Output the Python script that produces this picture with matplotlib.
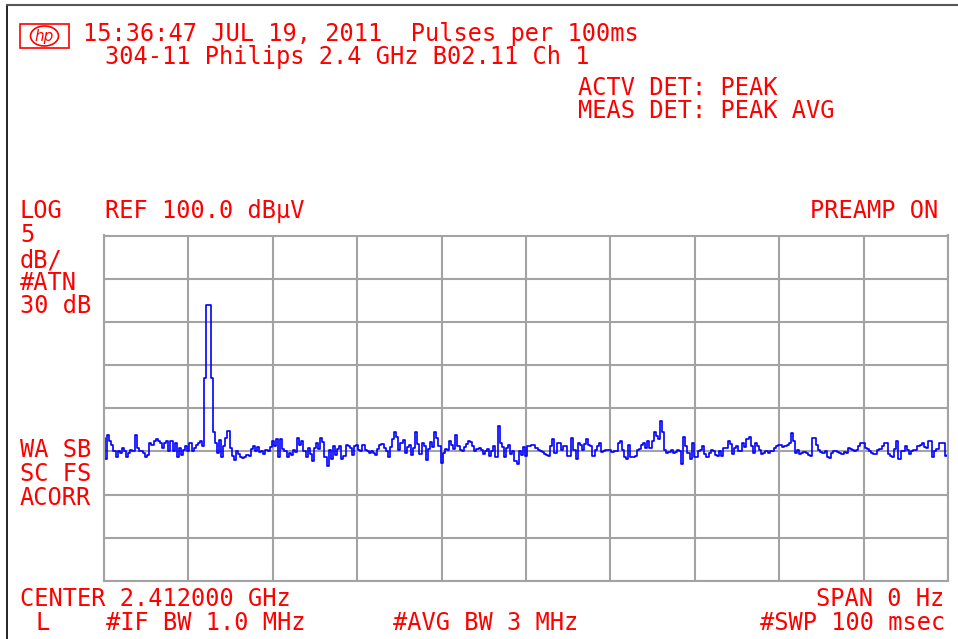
import numpy as np
import matplotlib
matplotlib.use('Agg')
import matplotlib.pyplot as plt
from matplotlib.lines import Line2D
from matplotlib.patches import Rectangle, Ellipse

# zero-span sweep, 401 trace points, values in dBuV
sweep_ms = 100.0
ref_level = 100.0
db_per_div = 5
n_div_y = 8

trace_dbuv = [
    76.6, 74.1, 76.9, 76.2, 75.8, 75.0, 74.4, 75.0, 74.8, 75.4,
    75.0, 74.4, 74.8, 75.2, 75.0, 76.9, 75.4, 75.0, 75.0, 74.8,
    74.4, 74.6, 76.0, 75.8, 76.2, 76.4, 76.2, 76.0, 75.4, 76.0,
    76.2, 75.0, 76.2, 75.0, 76.0, 74.4, 75.4, 74.6, 75.2, 75.6,
    75.0, 76.0, 75.0, 75.4, 75.8, 76.0, 76.2, 75.6, 83.5, 91.9,
    91.9, 83.5, 77.3, 76.0, 74.8, 76.3, 74.4, 75.6, 76.6, 77.4,
    75.4, 74.5, 74.0, 75.0, 74.7, 74.4, 74.2, 74.3, 74.6, 74.5,
    75.3, 75.6, 75.1, 75.5, 74.9, 75.0, 74.7, 75.2, 75.1, 75.5,
    76.2, 75.6, 76.4, 74.3, 76.4, 75.3, 75.0, 74.3, 74.8, 74.6,
    75.2, 74.9, 76.6, 75.7, 76.2, 75.0, 74.4, 75.4, 74.7, 73.9,
    75.4, 76.0, 75.3, 76.6, 76.1, 74.3, 73.3, 75.2, 74.1, 75.6,
    74.6, 75.3, 75.6, 74.1, 74.5, 75.8, 75.6, 75.4, 74.6, 75.6,
    75.7, 75.2, 75.0, 75.8, 75.2, 75.1, 74.8, 75.1, 74.8, 74.6,
    75.3, 75.8, 75.9, 75.4, 75.1, 74.3, 75.5, 76.4, 77.3, 76.7,
    75.2, 76.0, 76.3, 74.8, 75.5, 75.7, 74.6, 75.4, 77.2, 75.9,
    74.7, 76.0, 75.6, 74.0, 75.3, 76.1, 75.5, 77.2, 76.5, 75.6,
    73.7, 74.8, 75.3, 75.2, 76.2, 75.8, 75.3, 76.9, 75.6, 75.2,
    75.0, 75.5, 75.9, 76.2, 76.1, 75.6, 75.1, 75.3, 75.4, 75.2,
    74.7, 75.1, 75.3, 74.5, 75.0, 75.6, 74.4, 77.9, 76.0, 75.5,
    74.4, 75.4, 75.7, 74.7, 75.1, 73.9, 73.5, 75.0, 74.6, 75.5,
    74.5, 75.6, 75.6, 75.8, 75.7, 75.4, 75.2, 75.1, 74.9, 74.7,
    74.6, 74.5, 75.6, 76.4, 74.8, 76.0, 76.0, 75.2, 75.6, 75.6,
    74.5, 74.5, 76.6, 75.2, 74.1, 76.0, 75.8, 75.2, 75.9, 76.4,
    75.8, 75.6, 74.5, 75.2, 75.6, 76.0, 74.9, 75.1, 75.2, 75.2,
    75.2, 74.9, 75.0, 75.0, 76.0, 76.2, 75.2, 74.4, 74.1, 75.8,
    74.3, 74.4, 74.5, 75.2, 75.3, 75.8, 76.0, 75.4, 76.2, 75.4,
    76.2, 77.3, 76.8, 76.4, 78.5, 77.2, 75.2, 74.8, 74.9, 75.2,
    74.8, 74.9, 75.2, 75.1, 73.5, 76.7, 75.6, 74.8, 74.1, 76.0,
    74.3, 74.3, 75.0, 75.2, 75.6, 74.7, 74.3, 74.8, 75.2, 75.1,
    74.6, 74.5, 75.0, 74.5, 75.4, 75.4, 76.2, 75.9, 74.7, 75.4,
    75.6, 75.0, 75.0, 76.0, 75.5, 76.4, 76.7, 75.6, 74.8, 76.0,
    75.6, 75.2, 74.7, 74.8, 75.0, 74.8, 75.0, 75.0, 75.4, 75.6,
    75.8, 75.8, 75.5, 75.6, 75.7, 76.0, 77.1, 76.2, 74.8, 75.2,
    74.7, 74.8, 74.9, 74.8, 74.6, 74.5, 76.5, 76.5, 75.8, 75.2,
    74.9, 74.8, 75.0, 74.4, 74.2, 74.8, 75.1, 75.0, 74.9, 74.8,
    74.7, 74.9, 74.8, 75.4, 75.3, 75.2, 75.0, 75.2, 75.6, 76.0,
    76.0, 75.4, 75.3, 75.0, 74.8, 74.7, 74.7, 75.2, 75.3, 75.6,
    76.0, 76.0, 74.7, 74.5, 74.3, 75.3, 76.2, 74.1, 75.0, 75.1,
    75.6, 75.2, 74.7, 75.0, 75.2, 75.2, 75.6, 75.7, 76.0, 75.5,
    75.4, 76.2, 76.2, 74.3, 75.0, 75.3, 76.0, 76.0, 76.0, 74.5,
    74.6,
]

# annotation text: (string, x px, baseline y px, align)
header_lines = [
    ('15:36:47 JUL 19, 2011  Pulses per 100ms', 83, 41.5, 'left'),
    ('304-11 Philips 2.4 GHz B02.11 Ch 1', 105, 64, 'left'),
    ('ACTV DET: PEAK', 578, 95, 'left'),
    ('MEAS DET: PEAK AVG', 578, 118, 'left'),
]
side_labels = [
    ('LOG', 20, 218, 'left'),
    ('REF 100.0 dB\u00b5V', 105, 218, 'left'),
    ('PREAMP ON', 938, 218, 'right'),
    ('5', 20, 242, 'left'),
    ('dB/', 20, 267, 'left'),
    ('#ATN', 20, 290, 'left'),
    ('30 dB', 20, 313, 'left'),
    ('WA SB', 20, 457, 'left'),
    ('SC FS', 20, 481, 'left'),
    ('ACORR', 20, 505, 'left'),
]
footer_lines = [
    ('CENTER 2.412000 GHz', 20, 606, 'left'),
    ('SPAN 0 Hz', 944, 606, 'right'),
    ('L', 35, 630, 'left'),
    ('#IF BW 1.0 MHz', 106, 630, 'left'),
    ('#AVG BW 3 MHz', 393, 630, 'left'),
    ('#SWP 100 msec', 945, 630, 'right'),
]

W, H = 958, 639
RED = '#ff0000'
GRID = '#a3a3a3'

fig = plt.figure(figsize=(W / 100, H / 100), dpi=100)
fig.set_facecolor('white')


def fx(x):
    return x / W


def fy(y):
    return 1 - y / H


# screen frame
fig.add_artist(Line2D([fx(7), fx(7)], [0, fy(5)], color='black', lw=1.2))
fig.add_artist(Line2D([fx(7), 1], [fy(5), fy(5)], color='#555555', lw=1.5))

ax = fig.add_axes([fx(104), fy(581), fx(948) - fx(104), fy(235.5) - fy(581)])
t = np.linspace(0, sweep_ms, len(trace_dbuv))
ax.plot(t, trace_dbuv, color='#0000ff', lw=1.2, drawstyle='steps-mid')

bottom = ref_level - db_per_div * n_div_y
ax.set_xlim(0, sweep_ms)
ax.set_ylim(bottom, ref_level)
ax.set_xticks(np.arange(0, sweep_ms + 1, sweep_ms / 10))
ax.set_yticks(np.arange(bottom, ref_level + 1, db_per_div))
ax.grid(True, color=GRID, lw=1.5)
ax.set_axisbelow(True)
ax.tick_params(length=0, labelbottom=False, labelleft=False)
for s in ax.spines.values():
    s.set_color(GRID)
    s.set_linewidth(1.5)

font = dict(family='DejaVu Sans Mono', color=RED, fontsize=17, va='baseline')
for txt, x, y, ha in header_lines + side_labels + footer_lines:
    fig.text(fx(x), fy(y), txt, ha=ha, **font)

# hp logo
fig.add_artist(Rectangle((fx(20), fy(48)), fx(69) - fx(20), fy(24) - fy(48),
                         transform=fig.transFigure, fill=False, ec=RED, lw=1.2))
fig.add_artist(Ellipse((fx(44.5), fy(36)), fx(28), fy(0) - fy(20),
                       transform=fig.transFigure, fill=False, ec=RED, lw=1.2))
fig.text(fx(44.5), fy(36), 'hp', color=RED, fontsize=11, style='italic',
         ha='center', va='center', family='DejaVu Sans')

fig.savefig('out.png', dpi=100)
